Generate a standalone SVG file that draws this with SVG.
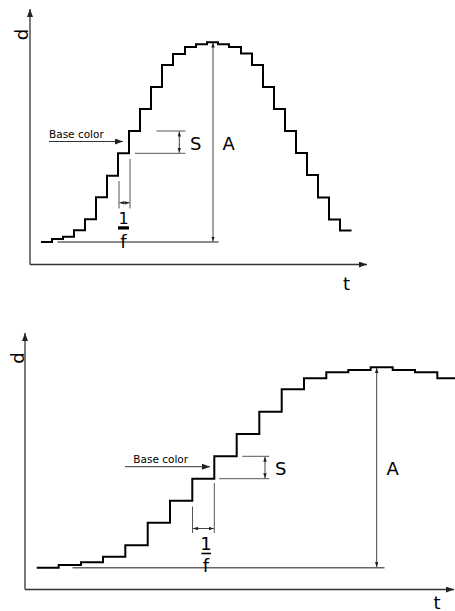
<svg xmlns="http://www.w3.org/2000/svg" width="455" height="611" viewBox="0 0 455 611">
<style>
text{font-family:"DejaVu Sans","Liberation Sans",sans-serif;fill:#000}
.lbl{font-size:18px}
.small{font-size:10.5px}
.axis{stroke:#333;stroke-width:1.3;fill:none;marker-end:url(#ah)}
.step{stroke:#000;stroke-width:2;fill:none}
.dim{stroke:#555;stroke-width:1;fill:none}
.base{stroke:#666;stroke-width:1.5;fill:none}
.dbl{stroke:#444;stroke-width:1;fill:none;marker-start:url(#da);marker-end:url(#da)}
.arr{stroke:#333;stroke-width:1;fill:none;marker-end:url(#ba)}
</style>
<defs>
<marker id="ah" markerUnits="userSpaceOnUse" markerWidth="9" markerHeight="7" refX="8" refY="3" orient="auto"><path d="M0,0 L8,3 L0,6 z" fill="#222"/></marker>
<marker id="ba" markerUnits="userSpaceOnUse" markerWidth="9" markerHeight="7" refX="8" refY="3" orient="auto"><path d="M0,0 L8,3 L0,6 z" fill="#222"/></marker>
<marker id="da" markerUnits="userSpaceOnUse" markerWidth="6" markerHeight="4" refX="5" refY="1.75" orient="auto-start-reverse"><path d="M0,0 L5,1.75 L0,3.5 z" fill="#222"/></marker>
</defs>

<g id="top-graph">
<g id="top-axes">
<line class="axis" x1="30" y1="264.5" x2="30" y2="9"/>
<line class="axis" x1="30" y1="264.5" x2="367" y2="264.5"/>
<text class="lbl" transform="translate(28,34.5) rotate(-90)" text-anchor="middle">d</text>
<text class="lbl" x="346.5" y="290" text-anchor="middle">t</text>
</g>
<g id="top-dimensions">
<line class="base" x1="57.5" y1="242" x2="218.5" y2="242"/>
<line class="dbl" x1="213" y1="42.5" x2="213" y2="241.5"/>
<text class="lbl" x="222.5" y="149.5">A</text>
<line class="dim" x1="156.5" y1="131" x2="185.5" y2="131"/>
<line class="dim" x1="135" y1="153.3" x2="185.5" y2="153.3"/>
<line class="dbl" x1="179.3" y1="131.5" x2="179.3" y2="152.8"/>
<text class="lbl" x="190" y="149.5">S</text>
<line class="dim" x1="119" y1="181" x2="119" y2="208.5"/>
<line class="dim" x1="130" y1="159" x2="130" y2="208.5"/>
<line class="dbl" x1="119.5" y1="202.8" x2="129.5" y2="202.8"/>
<text x="123.5" y="224" text-anchor="middle" style="font-size:16px">1</text>
<rect x="118" y="226.3" width="11" height="3.2" fill="#000"/>
<text x="123.5" y="247.5" text-anchor="middle" style="font-size:18px">f</text>
<line class="arr" x1="49" y1="141.5" x2="123" y2="141.5"/>
<text class="small" x="49" y="138">Base color</text>
</g>
<path id="top-steps" class="step" d="M41,242 H52 V239 H63 V236.7 H74 V230.3 H85 V219.3 H96 V197.3 H107 V175.7 H118 V153.3 H129 V131 H140 V109 H151 V87 H162 V65 H173 V54 H185 V47 H196 V44.3 H207 V42.3 H218 V44.3 H229 V47 H241 V53.5 H252 V65 H263 V87 H274 V109 H285 V131 H296 V153 H307 V175 H318 V197.5 H329 V219.5 H340 V230.5 H351.5"/>
</g>

<g id="bottom-graph">
<g id="bottom-axes">
<line class="axis" x1="25" y1="589.5" x2="25" y2="333"/>
<line class="axis" x1="25" y1="589.5" x2="454" y2="589.5"/>
<text class="lbl" transform="translate(23.5,358) rotate(-90)" text-anchor="middle">d</text>
<text class="lbl" x="437" y="608.5" text-anchor="middle">t</text>
</g>
<g id="bottom-dimensions">
<line class="base" x1="72.5" y1="567.7" x2="384.5" y2="567.7"/>
<line class="dbl" x1="376.7" y1="368" x2="376.7" y2="567"/>
<text class="lbl" x="386.5" y="475">A</text>
<line class="dim" x1="242.3" y1="456.3" x2="269.3" y2="456.3"/>
<line class="dim" x1="219" y1="478.7" x2="269.3" y2="478.7"/>
<line class="dbl" x1="265" y1="456.8" x2="265" y2="478.2"/>
<text class="lbl" x="275" y="475">S</text>
<line class="dim" x1="192.5" y1="506.5" x2="192.5" y2="533"/>
<line class="dim" x1="214.3" y1="483" x2="214.3" y2="533"/>
<line class="dbl" x1="193" y1="528.5" x2="213.8" y2="528.5"/>
<text class="lbl" x="206" y="550" text-anchor="middle">1</text>
<line x1="201.5" y1="553.5" x2="211" y2="553.5" stroke="#000" stroke-width="1.6"/>
<text class="lbl" x="206" y="572" text-anchor="middle">f</text>
<line class="arr" x1="125" y1="466.7" x2="210" y2="466.7"/>
<text class="small" x="133.3" y="463.3">Base color</text>
</g>
<path id="bottom-steps" class="step" d="M36.7,567.7 H58.7 V565 H81 V562.3 H103 V556.7 H125.3 V545.3 H147.7 V522.7 H170 V500.7 H192.3 V478.7 H214.3 V456.3 H236.7 V434 H259.3 V411.7 H281.7 V389.3 H304 V378.3 H326.3 V372.3 H348.3 V370 H370.7 V367.3 H392.7 V370 H415 V372.3 H437.3 V378.3 H455"/>
</g>
</svg>
